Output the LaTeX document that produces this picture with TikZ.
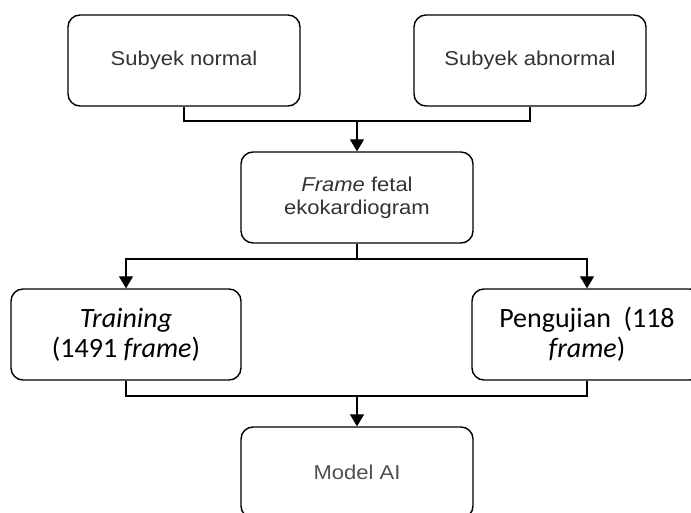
\documentclass[tikz,border=0pt]{standalone}
\usepackage{fontspec}
\usepackage{tikz}
\usetikzlibrary{arrows.meta,positioning}
\usepackage{xcolor}
\newfontfamily\flowfont[FakeStretch=1.1]{Liberation Sans}
\newfontfamily\notefont{Carlito}
\definecolor{flowgray}{HTML}{333333}
\definecolor{softgray}{HTML}{505050}

\begin{document}
\begin{tikzpicture}[x=1pt, y=-1pt,
  stagebox/.style={draw=black, line width=1.4pt, rounded corners=12pt,
    minimum width=232pt, minimum height=91pt, align=center, inner sep=2pt},
  flowtext/.style={font=\flowfont\fontsize{20}{23}\selectfont, text=flowgray},
  notetext/.style={font=\notefont\fontsize{28}{30}\selectfont, text=black},
  link/.style={line width=1.4pt, draw=black},
  flow/.style={link, -{Triangle[length=12pt, width=14pt]}}]
\useasboundingbox (0,0) rectangle (691,513);
\clip (0,0) rectangle (691,513);

% Subjects
\node[stagebox, flowtext] (normal) at (184,60.5) {Subyek normal};
\node[stagebox, flowtext] (abnormal) at (530,60.5) {Subyek abnormal};

% Frames
\node[stagebox, flowtext] (frames) at (357,197.5) {\emph{Frame} fetal\\ekokardiogram};

% Split
\node[stagebox, notetext, minimum width=230pt] (train) at (126,334.5) {\emph{Training}\\(1491 \emph{frame})};
\node[stagebox, notetext, minimum width=230pt] (test) at (587,334.5) {Pengujian\ \ (118\\\emph{frame})};

% Model
\node[stagebox, flowtext, text=softgray] (model) at (357,472.5) {Model AI};

% Junctions
\coordinate (joinA) at (357,121);
\coordinate (joinB) at (357,259);
\coordinate (joinC) at (357,396);

\draw[link] (normal.south) |- (joinA) -| (abnormal.south);
\draw[flow] (joinA) -- (frames.north);

\draw[link] (frames.south) -- (joinB);
\draw[flow] (joinB) -| (train.north);
\draw[flow] (joinB) -| (test.north);

\draw[link] (train.south) |- (joinC) -| (test.south);
\draw[flow] (joinC) -- (model.north);
\end{tikzpicture}
\end{document}
